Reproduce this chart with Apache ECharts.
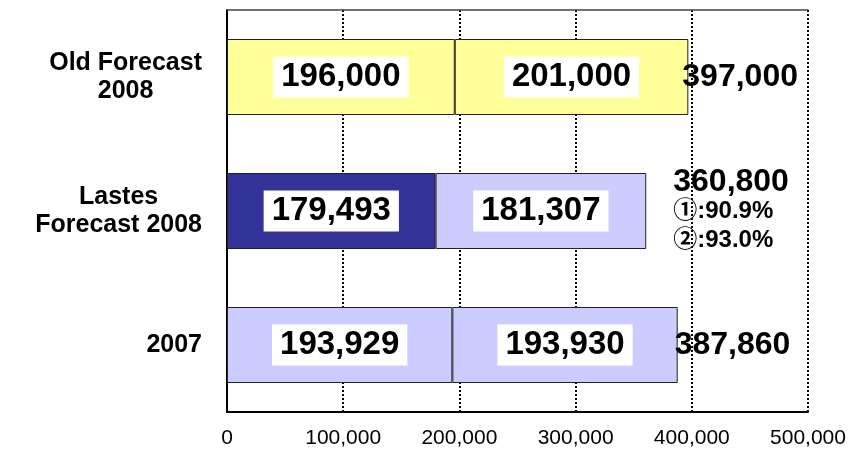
<!DOCTYPE html>
<html>
<head>
    <meta charset="utf-8">
    <title>Forecast 2008</title>
    <script src="https://cdn.jsdelivr.net/npm/echarts@6/dist/echarts.min.js"></script>
    <style>
        html, body { margin: 0; padding: 0; background: #fff; }
        #main { width: 852px; height: 451px; }
    </style>
</head>
<body>
<div id="main"></div>

<script type="text/javascript">
    // data (bottom to top)
    var categories = ['2007', 'Lastes\nForecast 2008', 'Old Forecast\n2008'];
    var firstHalf = [193929, 179493, 196000];
    var secondHalf = [193930, 181307, 201000];
    var totals = [387860, 360800, 397000];
    var notes = [[], ['①:90.9%', '②:93.0%'], []];
    var xTicks = [0, 100000, 200000, 300000, 400000, 500000];

    // styles
    var firstColors = ['#CCCCFF', '#333399', '#FFFF99'];
    var secondColors = ['#CCCCFF', '#CCCCFF', '#FFFF99'];
    var totalOffsets = [[-3, 0], [27, 0], [-6, 0]];

    var font = "'Liberation Sans', Arial, 'Noto Sans CJK JP', sans-serif";

    function fmt(v) {
        return Number(v).toLocaleString('en-US');
    }

    var innerLabel = {
        show: true,
        position: 'inside',
        formatter: function (p) { return fmt(p.value); },
        backgroundColor: '#fff',
        padding: [4, 8],
        color: '#000',
        fontSize: 33,
        lineHeight: 33,
        fontWeight: 'bold',
        fontFamily: font
    };

    var barBorder = { borderColor: '#222', borderWidth: 1 };

    var myChart = echarts.init(document.getElementById('main'));
    myChart.setOption({
        animation: false,
        backgroundColor: '#fff',
        grid: { left: 227, right: 44, top: 10, bottom: 39 },
        xAxis: [{
            type: 'value',
            min: xTicks[0],
            max: xTicks[xTicks.length - 1],
            interval: xTicks[1] - xTicks[0],
            axisLine: { show: true, lineStyle: { color: '#000', width: 2 } },
            axisTick: { show: false },
            axisLabel: {
                color: '#000', fontSize: 21, fontFamily: font, margin: 16,
                formatter: function (v) { return fmt(v); }
            },
            splitLine: { show: true, lineStyle: { color: '#000', width: 2, type: [2, 2] } }
        }, {
            type: 'value',
            position: 'top',
            min: xTicks[0],
            max: xTicks[xTicks.length - 1],
            axisLine: { show: true, lineStyle: { color: '#444', width: 1.5 } },
            axisTick: { show: false },
            axisLabel: { show: false },
            splitLine: { show: false }
        }],
        yAxis: {
            type: 'category',
            data: categories,
            axisLine: { lineStyle: { color: '#000', width: 2 } },
            axisTick: { inside: true, length: 8, lineStyle: { color: '#000', width: 1 } },
            axisLabel: {
                margin: 25,
                formatter: function (v) {
                    return v.split('\n').map(function (s) { return '{c|' + s + '}'; }).join('\n');
                },
                rich: {
                    c: {
                        align: 'center', color: '#000', fontSize: 25, fontWeight: 'bold',
                        lineHeight: 28, fontFamily: font
                    }
                }
            }
        },
        series: [{
            name: 'first',
            type: 'bar',
            stack: 'sum',
            barWidth: 76,
            data: firstHalf.map(function (v, i) {
                return { value: v, itemStyle: Object.assign({ color: firstColors[i] }, barBorder) };
            }),
            label: innerLabel
        }, {
            name: 'second',
            type: 'bar',
            stack: 'sum',
            barWidth: 76,
            data: secondHalf.map(function (v, i) {
                return { value: v, itemStyle: Object.assign({ color: secondColors[i] }, barBorder) };
            }),
            label: innerLabel
        }, {
            name: 'total',
            type: 'bar',
            barWidth: 76,
            barGap: '-100%',
            silent: true,
            itemStyle: { color: 'rgba(0,0,0,0)' },
            data: totals.map(function (v, i) {
                return { value: v, label: { offset: totalOffsets[i] } };
            }),
            label: {
                show: true,
                position: 'right',
                distance: 0,
                formatter: function (p) {
                    var lines = ['{big|' + fmt(p.value) + '}'];
                    notes[p.dataIndex].forEach(function (n) { lines.push('{small|' + n + '}'); });
                    return lines.join('\n');
                },
                rich: {
                    big: { color: '#000', fontSize: 32, fontWeight: 'bold', lineHeight: 30, fontFamily: font },
                    small: { color: '#000', fontSize: 24, fontWeight: 'bold', lineHeight: 29, fontFamily: font }
                }
            }
        }]
    });
</script>
</body>
</html>
